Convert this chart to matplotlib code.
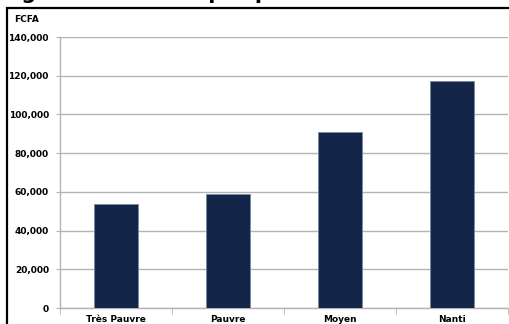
#!/usr/bin/env python3
"""Revenu par personne par groupe - bar chart recreation."""

import matplotlib

matplotlib.use("Agg")
import matplotlib.pyplot as plt
from matplotlib.patches import Rectangle
from matplotlib.ticker import FuncFormatter, FixedLocator

categories = ["Très Pauvre", "Pauvre", "Moyen", "Nanti"]
values = [53700, 58700, 90900, 117100]
y_ticks = [0, 20000, 40000, 60000, 80000, 100000, 120000, 140000]
unit_label = "FCFA"
title = "Figure 4: Revenu par personne selon le niveau de vie"

W, H = 510, 324
fig = plt.figure(figsize=(W / 100, H / 100), dpi=100)

# outer chart frame (cropped at right and bottom)
fig.patches.append(
    Rectangle((7 / W, -0.05), 1.2, 1 - 8 / H + 0.05, transform=fig.transFigure,
              fill=False, edgecolor="black", linewidth=1.6)
)

# title, clipped at the top of the picture (only descenders show)
fig.text(0.0, 1.0 + 1 / H, title, ha="left", va="baseline", fontsize=15, fontweight="bold")

ax = fig.add_axes([60 / W, (H - 308) / H, (508 - 60) / W, (308 - 37) / H])
x = range(len(categories))
ax.bar(x, values, width=0.4, color="#13264a", edgecolor="#7d8aa0", linewidth=0.6, zorder=3)

ax.set_xlim(-0.5, len(categories) - 0.5)
ax.set_ylim(y_ticks[0], y_ticks[-1])
ax.set_yticks(y_ticks)
ax.yaxis.set_major_formatter(FuncFormatter(lambda v, _: f"{int(v):,}"))
ax.set_xticks(list(x))
ax.set_xticklabels(categories)
ax.xaxis.set_minor_locator(FixedLocator([i - 0.5 for i in range(len(categories) + 1)]))

grid_color = "#b4b4b4"
ax.grid(axis="y", color=grid_color, linewidth=1.0, zorder=0)
for side in ("top", "right"):
    ax.spines[side].set_visible(False)
for side in ("left", "bottom"):
    ax.spines[side].set_color(grid_color)
    ax.spines[side].set_linewidth(1.0)

ax.tick_params(axis="y", length=3, color=grid_color, labelsize=6.5, pad=5)
ax.tick_params(axis="x", which="major", length=0, labelsize=6.5, pad=5)
ax.tick_params(axis="x", which="minor", length=4, color=grid_color)
for lab in ax.get_yticklabels() + ax.get_xticklabels():
    lab.set_fontweight("bold")

fig.text(14 / W, 1 - 20 / H, unit_label, ha="left", va="center", fontsize=6.5, fontweight="bold")

fig.savefig("out.png", dpi=100)
